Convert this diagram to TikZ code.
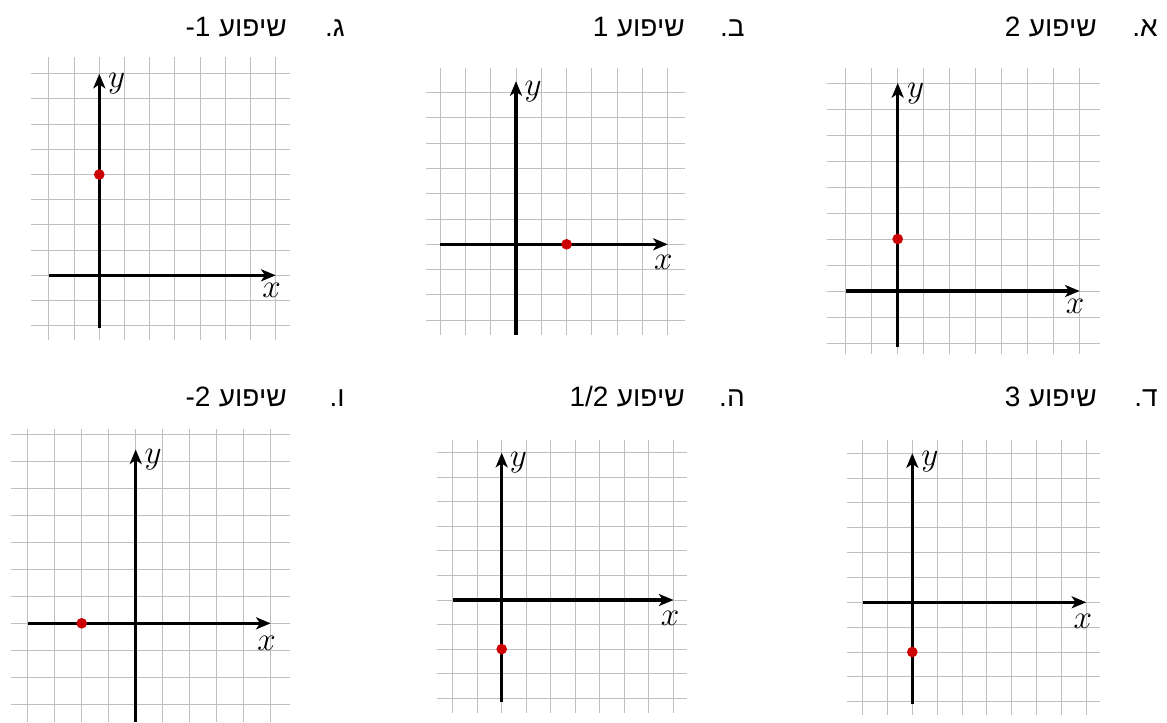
\documentclass[tikz,border=0pt]{standalone}
\usepackage{fontspec}
\newfontfamily\hebfont[Script=Hebrew]{Liberation Sans}
\newfontfamily\latfont{Liberation Sans}
\TeXXeTstate=1
\usetikzlibrary{arrows.meta}
\definecolor{dotred}{HTML}{CC0000}
\definecolor{gridgray}{HTML}{C0C0C0}

\begin{document}
\begin{tikzpicture}[
    x=0.75pt, y=-0.75pt,
    gridln/.style={draw=gridgray, line width=0.75pt},
    axln/.style={line width=2.3pt, -{Stealth[length=11pt, width=9pt, inset=3pt]}},
    lbl/.style={inner sep=0pt, font=\fontsize{24.88}{30}\selectfont},
    rdot/.style={circle, fill=dotred, inner sep=0pt, minimum size=8pt},
    ttl/.style={anchor=base east, inner sep=0pt, font=\fontsize{21}{25}\selectfont}
]
    \useasboundingbox (0,0) rectangle (1167,722);

    % Titles, top row (numbers set left of the word, as printed)
    \node[ttl] (atitle) at (1097,36) {{\latfont 2}\ {\hebfont\beginR שיפוע\endR}};
    \node[ttl] (aletter) at (1158,36) {{\latfont .}{\hebfont\beginR א\endR}};
    \node[ttl] (btitle) at (685,36) {{\latfont 1}\ {\hebfont\beginR שיפוע\endR}};
    \node[ttl] (bletter) at (745,36) {{\latfont .}{\hebfont\beginR ב\endR}};
    \node[ttl] (gtitle) at (287,36) {{\latfont -1}\ {\hebfont\beginR שיפוע\endR}};
    \node[ttl] (gletter) at (345,36) {{\latfont .}{\hebfont\beginR ג\endR}};

    % Titles, bottom row
    \node[ttl] (dtitle) at (1097,406) {{\latfont 3}\ {\hebfont\beginR שיפוע\endR}};
    \node[ttl] (dletter) at (1158,406) {{\latfont .}{\hebfont\beginR ד\endR}};
    \node[ttl] (htitle) at (685,406) {{\latfont 1/2}\ {\hebfont\beginR שיפוע\endR}};
    \node[ttl] (hletter) at (745,406) {{\latfont .}{\hebfont\beginR ה\endR}};
    \node[ttl] (vtitle) at (287,406) {{\latfont -2}\ {\hebfont\beginR שיפוע\endR}};
    \node[ttl] (vletter) at (345,406) {{\latfont .}{\hebfont\beginR ו\endR}};

    % Grid a
    \begin{scope}[shift={(897.7,291)}, x=19.5pt, y=19.5pt]
        \foreach \i in {-2,...,7} \draw[gridln] (\i,-2.42) -- (\i,8.58);
        \foreach \j in {-2,...,8} \draw[gridln] (-2.73,\j) -- (7.78,\j);
        \coordinate (axa) at (-2,0);
        \coordinate (axb) at (7,0);
        \coordinate (aya) at (0,-2.14);
        \coordinate (ayb) at (0,8);
        \draw[axln] (axa) -- (axb);
        \draw[axln] (aya) -- (ayb);
        \node[lbl] (ax) at (6.82,-0.6) {$x$};
        \node[lbl] (ay) at (0.69,7.6) {$y$};
        \node[rdot] (adot) at (0,2) {};
    \end{scope}

    % Grid b
    \begin{scope}[shift={(516,244.3)}, x=18.975pt, y=18.975pt]
        \foreach \i in {-3,...,6} \draw[gridln] (\i,-3.58) -- (\i,6.96);
        \foreach \j in {-3,...,6} \draw[gridln] (-3.56,\j) -- (6.68,\j);
        \coordinate (bxa) at (-3,0);
        \coordinate (bxb) at (6,0);
        \coordinate (bya) at (0,-3.58);
        \coordinate (byb) at (0,6.45);
        \draw[axln] (bxa) -- (bxb);
        \draw[axln] (bya) -- (byb);
        \node[lbl] (bx) at (5.82,-0.72) {$x$};
        \node[lbl] (by) at (0.68,6.05) {$y$};
        \node[rdot] (bdot) at (2,0) {};
    \end{scope}

    % Grid g
    \begin{scope}[shift={(99.3,275.3)}, x=18.9pt, y=18.9pt]
        \foreach \i in {-2,...,7} \draw[gridln] (\i,-2.57) -- (\i,8.65);
        \foreach \j in {-2,...,8} \draw[gridln] (-2.71,\j) -- (7.57,\j);
        \coordinate (gxa) at (-2,0);
        \coordinate (gxb) at (7,0);
        \coordinate (gya) at (0,-2.09);
        \coordinate (gyb) at (0,8);
        \draw[axln] (gxa) -- (gxb);
        \draw[axln] (gya) -- (gyb);
        \node[lbl] (gx) at (6.84,-0.6) {$x$};
        \node[lbl] (gy) at (0.69,7.62) {$y$};
        \node[rdot] (gdot) at (0,4) {};
    \end{scope}

    % Grid d
    \begin{scope}[shift={(912.3,602.3)}, x=18.64pt, y=18.64pt]
        \foreach \i in {-2,...,7} \draw[gridln] (\i,-4.54) -- (\i,6.53);
        \foreach \j in {-4,...,6} \draw[gridln] (-2.64,\j) -- (7.55,\j);
        \coordinate (dxa) at (-2,0);
        \coordinate (dxb) at (7,0);
        \coordinate (dya) at (0,-4.09);
        \coordinate (dyb) at (0,6);
        \draw[axln] (dxa) -- (dxb);
        \draw[axln] (dya) -- (dyb);
        \node[lbl] (dx) at (6.86,-0.76) {$x$};
        \node[lbl] (dy) at (0.71,5.65) {$y$};
        \node[rdot] (ddot) at (0,-2) {};
    \end{scope}

    % Grid h
    \begin{scope}[shift={(501.7,600)}, x=18.41pt, y=18.41pt]
        \foreach \i in {-2,...,7} \draw[gridln] (\i,-4.59) -- (\i,6.52);
        \foreach \j in {-4,...,6} \draw[gridln] (-2.65,\j) -- (7.54,\j);
        \coordinate (hxa) at (-2,0);
        \coordinate (hxb) at (7,0);
        \coordinate (hya) at (0,-4.14);
        \coordinate (hyb) at (0,6);
        \draw[axln] (hxa) -- (hxb);
        \draw[axln] (hya) -- (hyb);
        \node[lbl] (hx) at (6.86,-0.74) {$x$};
        \node[lbl] (hy) at (0.68,5.6) {$y$};
        \node[rdot] (hdot) at (0,-2) {};
    \end{scope}

    % Grid v
    \begin{scope}[shift={(135.7,623.3)}, x=20.25pt, y=20.25pt]
        \foreach \i in {-4,...,5} \draw[gridln] (\i,-3.66) -- (\i,7.2);
        \foreach \j in {-3,...,7} \draw[gridln] (-4.62,\j) -- (5.71,\j);
        \coordinate (vxa) at (-4,0);
        \coordinate (vxb) at (5,0);
        \coordinate (vya) at (0,-3.66);
        \coordinate (vyb) at (0,6.44);
        \draw[axln] (vxa) -- (vxb);
        \draw[axln] (vya) -- (vyb);
        \node[lbl] (vx) at (4.85,-0.74) {$x$};
        \node[lbl] (vy) at (0.65,6.05) {$y$};
        \node[rdot] (vdot) at (-2,0) {};
    \end{scope}
\end{tikzpicture}
\end{document}
